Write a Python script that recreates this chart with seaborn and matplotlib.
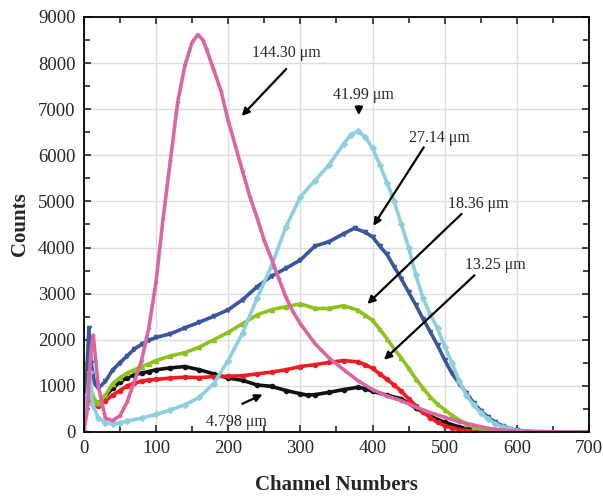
import numpy as np
import pandas as pd
import seaborn as sns
import matplotlib.pyplot as plt


# Spectra (channel, counts)
ch_pink = [0, 5, 10, 13, 20, 30, 40, 50, 60, 70, 80, 90, 100, 110, 120, 130, 140, 150, 158, 165, 170, 180,
           190, 200, 210, 220, 230, 240, 250, 260, 270, 280, 290, 300, 320, 340, 360, 380, 400, 420, 440,
           460, 480, 500, 520, 540, 560, 580, 600, 620, 700]
cnt_pink = [0, 500, 1800, 2100, 1000, 300, 250, 350, 650, 1100, 1550, 2250, 3250, 4650, 5900, 7150, 7950,
            8450, 8620, 8500, 8300, 7850, 7400, 6750, 6200, 5650, 5100, 4650, 4150, 3750, 3330, 2920, 2600,
            2350, 1920, 1600, 1350, 1110, 920, 780, 680, 540, 420, 320, 220, 150, 80, 40, 15, 5, 0]

ch_lblue = [0, 5, 8, 12, 20, 30, 40, 50, 60, 80, 100, 120, 140, 160, 180, 200, 220, 240, 260, 280, 300,
            320, 340, 360, 370, 380, 390, 400, 410, 420, 430, 440, 450, 460, 470, 480, 490, 500, 510, 520,
            530, 540, 550, 560, 570, 580, 590, 600, 620, 700]
cnt_lblue = [0, 800, 1300, 600, 300, 200, 180, 200, 240, 300, 380, 480, 590, 750, 1050, 1550, 2150, 2900,
             3600, 4450, 5100, 5450, 5800, 6250, 6450, 6520, 6400, 6150, 5800, 5400, 5000, 4500, 4000, 3400,
             2900, 2550, 2250, 1850, 1500, 1100, 800, 580, 420, 280, 180, 110, 60, 30, 10, 0]

ch_dblue = [0, 4, 7, 10, 15, 20, 30, 40, 50, 60, 70, 80, 90, 100, 120, 140, 160, 180, 200, 220, 240, 260,
            280, 300, 320, 340, 360, 375, 390, 400, 410, 420, 430, 440, 450, 460, 470, 480, 490, 500, 510,
            520, 530, 540, 550, 560, 570, 580, 590, 600, 620, 700]
cnt_dblue = [0, 1200, 2250, 1500, 1050, 950, 1100, 1350, 1500, 1650, 1800, 1900, 1990, 2050, 2130, 2260,
             2380, 2510, 2650, 2870, 3150, 3380, 3550, 3730, 4030, 4130, 4300, 4420, 4330, 4230, 4030, 3850,
             3580, 3320, 3030, 2750, 2450, 2170, 1880, 1560, 1270, 1050, 850, 630, 460, 320, 210, 130, 70,
             40, 10, 0]

ch_green = [0, 3, 8, 15, 20, 30, 40, 50, 60, 70, 80, 90, 100, 120, 140, 160, 180, 200, 220, 240, 260, 280,
            300, 320, 340, 360, 380, 390, 400, 410, 420, 430, 440, 450, 460, 470, 480, 490, 500, 510, 520,
            530, 540, 550, 560, 580, 700]
cnt_green = [0, 1500, 1000, 700, 620, 800, 1050, 1180, 1280, 1350, 1420, 1480, 1550, 1650, 1720, 1840,
             2000, 2160, 2350, 2540, 2650, 2720, 2780, 2680, 2680, 2740, 2640, 2530, 2420, 2230, 2020, 1800,
             1600, 1380, 1150, 950, 760, 600, 480, 360, 260, 180, 110, 60, 30, 10, 0]

ch_red = [0, 3, 8, 15, 20, 30, 40, 50, 60, 70, 80, 90, 100, 120, 140, 160, 180, 200, 220, 240, 260, 280,
          300, 320, 340, 360, 380, 390, 400, 410, 420, 430, 440, 450, 460, 470, 480, 490, 500, 510, 520,
          540, 560, 700]
cnt_red = [0, 800, 700, 600, 560, 680, 800, 900, 1000, 1060, 1100, 1130, 1140, 1170, 1190, 1180, 1200,
           1210, 1220, 1260, 1300, 1350, 1420, 1460, 1510, 1550, 1520, 1460, 1380, 1260, 1140, 1020, 880,
           720, 570, 430, 310, 210, 140, 90, 50, 20, 5, 0]

ch_black = [0, 3, 8, 15, 20, 30, 40, 50, 60, 70, 80, 90, 100, 120, 140, 160, 180, 200, 220, 240, 260, 280,
            300, 310, 320, 340, 360, 380, 390, 400, 420, 440, 460, 480, 500, 520, 540, 560, 580, 700]
cnt_black = [0, 1000, 800, 650, 620, 780, 950, 1080, 1180, 1240, 1280, 1310, 1350, 1390, 1420, 1350, 1260,
             1170, 1120, 1020, 990, 900, 830, 800, 810, 860, 920, 970, 940, 880, 800, 720, 520, 340, 210,
             110, 50, 20, 5, 0]

# label, text position, arrow tail, arrow head (data coords)
labels = ['144.30 μm', '41.99 μm', '27.14 μm', '18.36 μm', '13.25 μm', '4.798 μm']
text_xy = [(280, 8220), (388, 7310), (492, 6380), (546, 4945), (570, 3620), (212, 225)]
arrow_from = [(283, 7915), (381, 7130), (473, 6225), (526, 4770), (544, 3440), (216, 585)]
arrow_to = [(216, 6810), (381, 6810), (399, 4420), (390, 2735), (413, 1525), (251, 840)]

series = [
    (ch_black, cnt_black, '#111111', 'o'),
    (ch_red, cnt_red, '#ed1c24', 'o'),
    (ch_green, cnt_green, '#8dc21e', '^'),
    (ch_dblue, cnt_dblue, '#3a569e', 'v'),
    (ch_lblue, cnt_lblue, '#8dcfde', 'D'),
    (ch_pink, cnt_pink, '#d966a2', '+'),
]

sns.set_style('ticks')
plt.rcParams['font.family'] = ['Liberation Serif', 'DejaVu Serif']

fig, ax = plt.subplots(figsize=(6.03, 5.0), dpi=100)
fig.subplots_adjust(left=0.139, right=0.977, bottom=0.136, top=0.966)

for x, y, c, m in series:
    sns.lineplot(x=x, y=y, color=c, marker=m, markersize=3, markeredgewidth=1,
                 markeredgecolor=c, linewidth=2.6, ax=ax)

for lab, txy, a0, a1 in zip(labels, text_xy, arrow_from, arrow_to):
    ax.text(txy[0], txy[1], lab, ha='center', va='center', fontsize=11.5)
    ax.annotate('', xy=a1, xytext=a0,
                arrowprops=dict(arrowstyle='-|>', color='black', lw=1.6, mutation_scale=11))

ax.set_xlim(0, 700)
ax.set_ylim(0, 9000)
ax.set_xticks(np.arange(0, 701, 100))
ax.set_yticks(np.arange(0, 9001, 1000))
ax.set_xticks(np.arange(0, 701, 50), minor=True)
ax.set_yticks(np.arange(0, 9001, 500), minor=True)
ax.grid(True, which='major', color='#dcdcdc', linewidth=1)
ax.set_axisbelow(True)
ax.tick_params(which='both', direction='in', top=True, right=True, labelsize=13.5, width=1.2)
ax.tick_params(which='major', length=5, pad=6)
ax.tick_params(which='minor', length=4)
for s in ax.spines.values():
    s.set_linewidth(1.3)
    s.set_color('black')

ax.set_xlabel('Channel Numbers', fontsize=15, fontweight='bold', labelpad=13)
ax.set_ylabel('Counts', fontsize=15, fontweight='bold', labelpad=6)

fig.savefig('out.png', dpi=100)
